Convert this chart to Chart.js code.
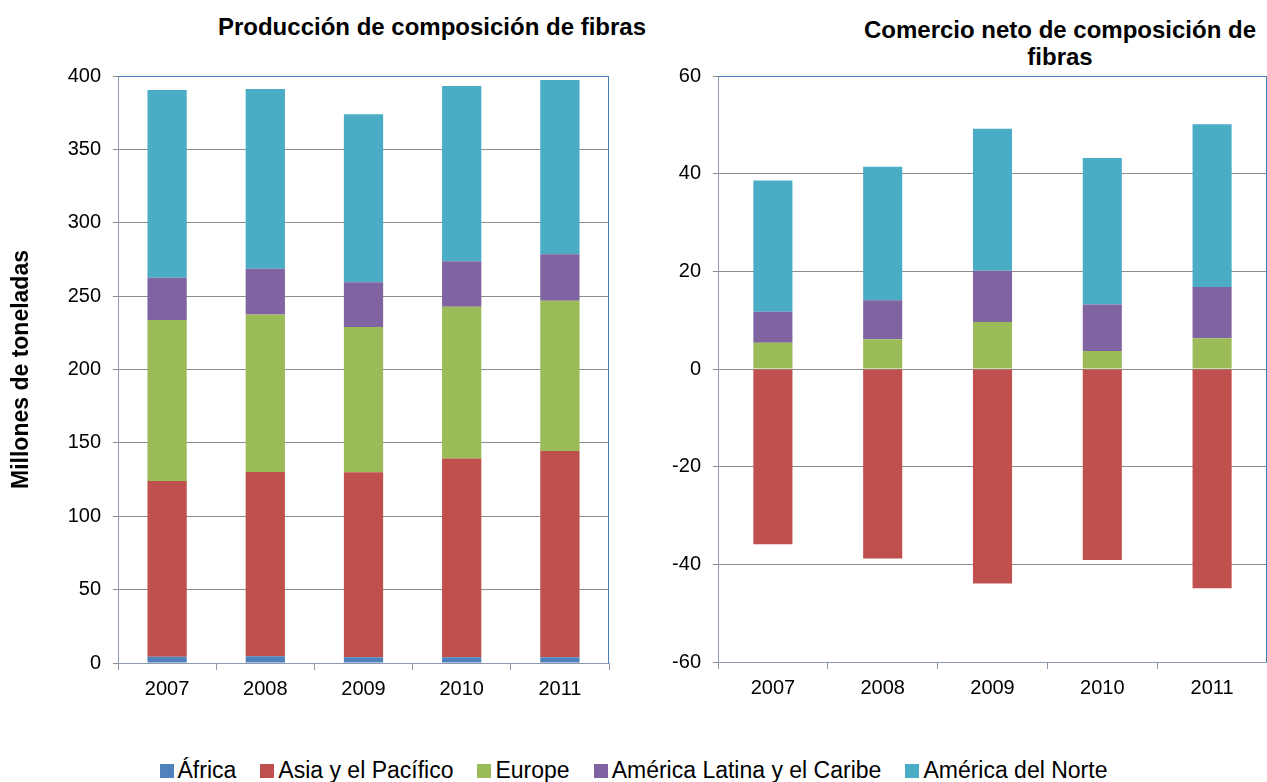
<!DOCTYPE html>
<html>
<head>
<meta charset="utf-8">
<script src="https://cdn.jsdelivr.net/npm/chart.js@4.4.0/dist/chart.umd.min.js"></script>
<style>
  body { margin: 0; background: #fff; font-family: "Liberation Sans", Arial, sans-serif; }
  #wrap { position: relative; width: 1267px; height: 782px; overflow: hidden; }
  .box { position: absolute; }
  .title { position: absolute; font-weight: bold; font-size: 24px; text-align: center; color: #000; line-height: 27px; white-space: nowrap; }
  #legend { position: absolute; left: 0; top: 757px; width: 1267px; display: flex; justify-content: center; font-size: 23px; line-height: 26px; color: #000; }
  #legend span.item { display: flex; align-items: center; margin: 0 12px; }
  #legend span.sw { display: inline-block; width: 14px; height: 14px; margin-right: 4px; margin-top: 2px; }
</style>
</head>
<body>
<div id="wrap">
  <div class="title" style="left:132px; top:13px; width:600px;">Producción de composición de fibras</div>
  <div class="title" style="left:840px; top:16px; width:440px;">Comercio neto de composición de<br>fibras</div>
  <div class="box" style="left:0; top:0; width:620px; height:703px;"><canvas id="prod"></canvas></div>
  <div class="box" style="left:640px; top:0; width:627px; height:702px;"><canvas id="trade"></canvas></div>
  <div id="legend"></div>
</div>
<script>
// categorías y series (millones de toneladas)
const years = ["2007", "2008", "2009", "2010", "2011"];
const regions = ["África", "Asia y el Pacífico", "Europe", "América Latina y el Caribe", "América del Norte"];
const colors = ["#4F81BD", "#C0504D", "#9BBB59", "#8064A2", "#4BACC6"];

// Producción
const prodAfrica = [4.3, 4.6, 3.9, 3.9, 3.9];
const prodAsia = [119.7, 125.6, 126.1, 135.5, 140.6];
const prodEurope = [109.7, 107.2, 99.0, 103.4, 102.4];
const prodLatam = [28.9, 31.3, 30.4, 30.9, 31.6];
const prodNorth = [127.9, 122.4, 114.5, 119.5, 118.8];

// Comercio neto
const tradeAfrica = [0, 0, 0, 0, 0];
const tradeAsia = [-35.9, -38.8, -43.9, -39.1, -44.9];
const tradeEurope = [5.4, 6.1, 9.6, 3.7, 6.3];
const tradeLatam = [6.3, 8.0, 10.5, 9.5, 10.5];
const tradeNorth = [26.9, 27.3, 29.1, 30.0, 33.3];

const prodTicks = { min: 0, max: 400, step: 50 };
const tradeTicks = { min: -60, max: 60, step: 20 };

Chart.defaults.font.family = '"Liberation Sans", Arial, sans-serif';
Chart.defaults.color = "#000";

// borde azul del área de trazado (arriba y derecha)
const plotFrame = {
  id: "plotFrame",
  afterDraw(chart) {
    const { ctx, chartArea: a } = chart;
    ctx.save();
    ctx.strokeStyle = "#4A7EBB";
    ctx.lineWidth = 1;
    ctx.beginPath();
    ctx.moveTo(a.left, a.top + 0.5);
    ctx.lineTo(a.right - 0.5, a.top + 0.5);
    ctx.lineTo(a.right - 0.5, a.bottom);
    ctx.stroke();
    ctx.restore();
  }
};

function makeDatasets(series, catPct) {
  return series.map((vals, i) => ({
    label: regions[i],
    data: vals,
    backgroundColor: colors[i],
    borderWidth: 0,
    barPercentage: 1,
    categoryPercentage: catPct,
    stack: "s"
  }));
}

function makeChart(id, series, range, axisWidth, yTitle, catPct, padRight) {
  return new Chart(document.getElementById(id), {
    type: "bar",
    data: { labels: years, datasets: makeDatasets(series, catPct) },
    plugins: [plotFrame],
    options: {
      responsive: true,
      maintainAspectRatio: false,
      animation: false,
      layout: { padding: { top: 76, left: 0, right: padRight, bottom: 0 } },
      plugins: { legend: { display: false }, title: { display: false }, tooltip: { enabled: false } },
      scales: {
        x: {
          stacked: true,
          offset: true,
          grid: { display: true, drawOnChartArea: false, offset: true, tickLength: 7, color: "#8E9AAB" },
          border: { color: "#8E9AAB" },
          ticks: { font: { size: 20 }, padding: 7 },
          afterFit(s) { s.height = 40; }
        },
        y: {
          stacked: true,
          min: range.min,
          max: range.max,
          ticks: { stepSize: range.step, font: { size: 20 }, padding: 12 },
          grid: { color: "#8C8C8C", tickLength: 5 },
          border: { color: "#8E9AAB" },
          title: yTitle ? { display: true, text: yTitle, font: { size: 23, weight: "bold" }, padding: { top: 8, bottom: 0 } } : { display: false },
          afterFit(s) { s.width = axisWidth; }
        }
      }
    }
  });
}

makeChart("prod", [prodAfrica, prodAsia, prodEurope, prodLatam, prodNorth], prodTicks, 118, "Millones de toneladas", 0.4, 11);
makeChart("trade", [tradeAfrica, tradeAsia, tradeEurope, tradeLatam, tradeNorth], tradeTicks, 78, null, 0.356, 0);

// leyenda
const legend = document.getElementById("legend");
regions.forEach((r, i) => {
  const it = document.createElement("span");
  it.className = "item";
  const sw = document.createElement("span");
  sw.className = "sw";
  sw.style.background = colors[i];
  it.appendChild(sw);
  it.appendChild(document.createTextNode(r));
  legend.appendChild(it);
});
</script>
</body>
</html>
